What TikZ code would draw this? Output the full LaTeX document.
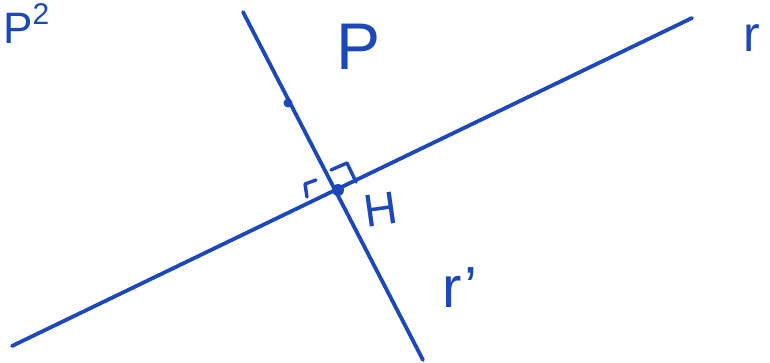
\documentclass[tikz,border=0pt]{standalone}
\usepackage{fontspec}
\setmainfont{Liberation Sans}
\definecolor{ink}{RGB}{28,72,186}
\begin{document}
\begin{tikzpicture}[x=1pt,y=-1pt,
  pen/.style={draw=ink,line width=3.8pt,line cap=round,line join=round},
  lbl/.style={text=ink,inner sep=0pt,anchor=center}]
\useasboundingbox (0,0) rectangle (770,362);
% lines
\coordinate (rA) at (12,346);
\coordinate (rB) at (692,18);
\coordinate (sA) at (243,12);
\coordinate (sB) at (423,360);
\draw[pen] (rA) -- (rB);
\draw[pen] (sA) -- (sB);
% points
\coordinate (H) at (338,190);
\coordinate (P) at (288,103);
\fill[ink] (H) circle (6);
\fill[ink] (P) circle (4.5);
% right angle marks
\draw[pen,line width=3.4pt] (331,170) -- (347,163) -- (356,182);
\draw[pen,line width=3.4pt] (307,197) -- (305,184) -- (316,180);
% labels
\node[lbl,font=\fontsize{66}{70}\selectfont] (lP) at (359,47) {P};
\node[lbl,font=\fontsize{46}{50}\selectfont,rotate=8] (lH) at (381,210) {H};
\node[lbl,font=\fontsize{58}{60}\selectfont] (lr2) at (460,288) {r'};
\node[lbl,font=\fontsize{50}{54}\selectfont] (lr) at (752,38) {r};
\node[lbl,font=\fontsize{44}{48}\selectfont,anchor=north west] (lP2) at (3,3) {P\raisebox{0.45em}{\fontsize{30}{32}\selectfont 2}};
\end{tikzpicture}
\end{document}
